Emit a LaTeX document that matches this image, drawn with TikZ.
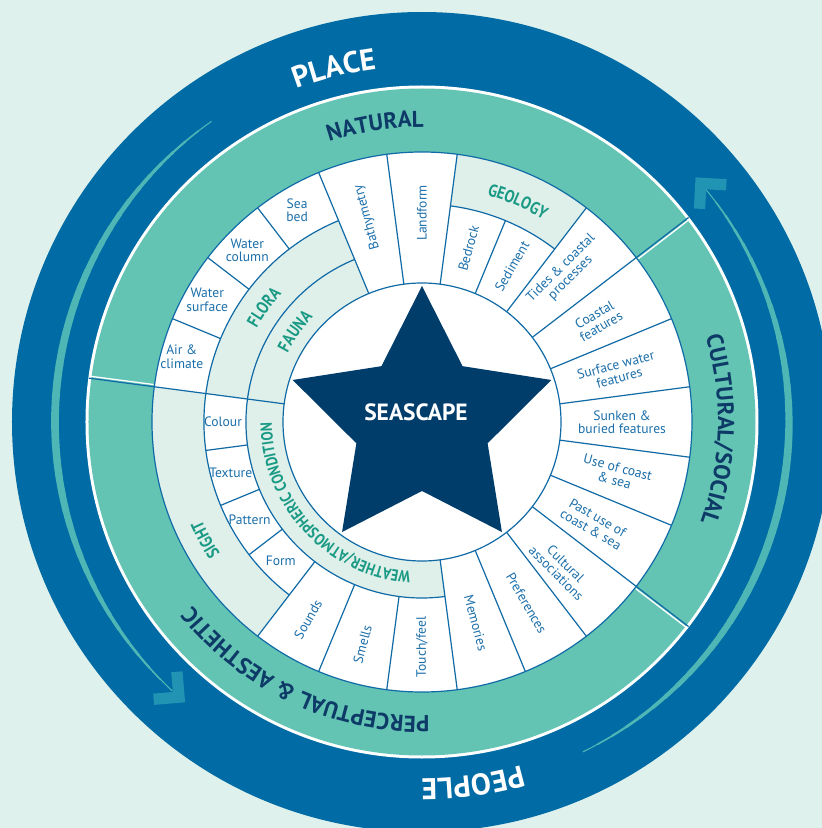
\documentclass[tikz,border=0pt]{standalone}
\usepackage{fontspec}
\setmainfont{PT Sans}
\newfontfamily\condfont[FakeStretch=0.84]{PT Sans}
\usetikzlibrary{decorations.text}

\definecolor{bgmint}{HTML}{DFF1EC}
\definecolor{ringblue}{HTML}{006BA4}
\definecolor{bandteal}{HTML}{63C4B4}
\definecolor{lineblue}{HTML}{0F6AA6}
\definecolor{celltext}{HTML}{1C6FAA}
\definecolor{cellmint}{HTML}{DFF0EB}
\definecolor{headgreen}{HTML}{1A9A84}
\definecolor{navy}{HTML}{0D3A66}
\definecolor{starblue}{HTML}{003D6B}
\definecolor{arrowteal}{HTML}{2193B3}
\definecolor{trailteal}{HTML}{4FB6B6}

\newcommand{\placetype}{\bfseries\fontsize{30}{30}\selectfont\color{white}}
\newcommand{\bandtype}{\bfseries\fontsize{23}{23}\selectfont\color{navy}}
\newcommand{\subtype}{\condfont\bfseries\fontsize{17.5}{17.5}\selectfont\color{headgreen}}
\newcommand{\weathertype}{\condfont\bfseries\fontsize{16.3}{16.3}\selectfont\color{headgreen}}

\tikzset{
  cell/.style={text=celltext,font=\fontsize{13.6}{13.5}\selectfont,align=center,inner sep=0pt},
  grid/.style={draw=lineblue,line width=1.2pt},
  arctext/.style={decorate,decoration={text along path,text align=center,text={#1}}},
  chevron/.style={fill=arrowteal}
}

\begin{document}
\begin{tikzpicture}[x=1pt,y=1pt]
  \useasboundingbox (-422,-406) rectangle (400,422);
  \clip (-422,-406) rectangle (400,422);
  \fill[bgmint] (-422,-406) rectangle (400,422);

  % outer ring
  \fill[ringblue] (0,0) circle[radius=410pt];
  \foreach \i in {0,...,39}{
    \pgfmathsetmacro{\a}{125+2.55*\i}
    \pgfmathsetmacro{\w}{0.8+7*sin(4.5*(\i+0.5))}
    \draw[trailteal,line width=\w pt] (\a:367) arc[start angle=\a,end angle=\a+2.7,radius=367pt];
  }
  \foreach \i in {0,...,39}{
    \pgfmathsetmacro{\a}{-64+2.58*\i}
    \pgfmathsetmacro{\w}{0.8+7*sin(4.5*(\i+0.5))}
    \draw[trailteal,line width=\w pt] (\a:367) arc[start angle=\a,end angle=\a+2.75,radius=367pt];
  }
  \fill[chevron,shift={(229.8:367)},rotate=319.8] (0,0) -- (-22,22) -- (-30,14) -- (-16,0) -- (-30,-14) -- (-22,-22) -- cycle;
  \fill[chevron,shift={(41.8:367)},rotate=131.8] (0,0) -- (-22,22) -- (-30,14) -- (-16,0) -- (-30,-14) -- (-22,-22) -- cycle;

  % band and wheel
  \fill[white] (0,0) circle[radius=336.5pt];
  \fill[bandteal] (0,0) circle[radius=333.5pt];
  \fill[white] (0,0) circle[radius=270pt];
  \foreach \s/\e/\ri/\ro in {112.5/172.5/139/218, 52.5/82.5/218/270, 172.5/277.5/139/176, 172.5/232.5/218/270}
    \fill[cellmint] (\s:\ri) arc[start angle=\s,end angle=\e,radius=\ri pt] -- (\e:\ro) arc[start angle=\e,end angle=\s,radius=\ro pt] -- cycle;

  \draw[grid] (0,0) circle[radius=139pt];
  \draw[grid] (0,0) circle[radius=270pt];
  \draw[grid] (112.5:176) arc[start angle=112.5,end angle=277.5,radius=176pt];
  \draw[grid] (112.5:218) arc[start angle=112.5,end angle=232.5,radius=218pt];
  \draw[grid] (52.5:218) arc[start angle=52.5,end angle=82.5,radius=218pt];
  \foreach \a/\ri/\ro in {7.5/139/270, 22.5/139/270, 37.5/139/270, 52.5/139/270, 82.5/139/270,
      97.5/139/270, 112.5/139/270, 172.5/139/270, -7.5/139/270, -22.5/139/270, -37.5/139/270,
      -52.5/139/270, -67.5/139/270, -82.5/139/270, 67.5/139/218, 127.5/218/270, 142.5/218/270,
      157.5/218/270, 187.5/176/218, 202.5/176/218, 217.5/176/218, 232.5/176/270, 247.5/176/270,
      262.5/176/270}
    \draw[grid] (\a:\ri) -- (\a:\ro);
  \foreach \a in {37.5,172.5,-37.5}{
    \draw[white,line width=1.3pt] ({\a-0.45}:271) -- ({\a-0.35}:336);
    \draw[lineblue,line width=1.2pt] (\a:270) -- (\a:336);
  }

  % star
  \fill[starblue] (90:136) \foreach \k in {0,...,4}{ -- ({126+72*\k}:69) -- ({162+72*\k}:136)} -- cycle;
  \node[text=white,font=\bfseries\fontsize{23.5}{23.5}\selectfont] (seascape) at (-6,10) {SEASCAPE};

  % ring titles
  \path[arctext={|\placetype|PLACE}] (134:356) arc[start angle=134,end angle=74,radius=356pt];
  \path[arctext={|\placetype|PEOPLE}] (-52:357) arc[start angle=-52,end angle=-112,radius=357pt];
  \path[arctext={|\bandtype|NATURAL}] (139:295) arc[start angle=139,end angle=59,radius=295pt];
  \path[arctext={|\bandtype|CULTURAL/SOCIAL}] (58.5:296) arc[start angle=58.5,end angle=-61.5,radius=296pt];
  \path[arctext={|\bandtype|PERCEPTUAL {\&} AESTHETIC}] (-45:294) arc[start angle=-45,end angle=-185,radius=294pt];
  \path[arctext={|\subtype|GEOLOGY}] (106.5:236) arc[start angle=106.5,end angle=26.5,radius=236pt];
  \path[arctext={|\subtype|FLORA}] (184:190) arc[start angle=184,end angle=104,radius=190pt];
  \path[arctext={|\subtype|FAUNA}] (184.5:151) arc[start angle=184.5,end angle=104.5,radius=151pt];
  \path[arctext={|\subtype|SIGHT}] (248.5:241) arc[start angle=248.5,end angle=168.5,radius=241pt];
  \path[arctext={|\weathertype|WEATHER/ATMOSPHERIC CONDITION}] (313:150) arc[start angle=313,end angle=133,radius=150pt];

  % cells
  \node[cell] (seabed) at (120.5:246) {Sea\\bed};
  \node[cell] (watercol) at (135.5:245) {Water\\column};
  \node[cell] (watersurf) at (150.4:247) {Water\\surface};
  \node[cell] (air) at (164.8:249) {Air \&\\climate};
  \node[cell,rotate=105] (bathy) at (105:212) {Bathymetry};
  \node[cell,rotate=90] (landform) at (90:209) {Landform};
  \node[cell,rotate=75] (bedrock) at (75:180) {Bedrock};
  \node[cell,rotate=60] (sediment) at (60:180) {Sediment};
  \node[cell,rotate=45] (tides) at (46:207) {Tides \& coastal\\processes};
  \node[cell,rotate=30] (coastal) at (30:203) {Coastal\\features};
  \node[cell,rotate=15] (surface) at (14.5:202) {Surface water\\features};
  \node[cell] (sunken) at (0:200) {Sunken \&\\buried features};
  \node[cell,rotate=-15] (usecoast) at (-15:201) {Use of coast\\\& sea};
  \node[cell,rotate=-30] (pastuse) at (-30.5:200) {Past use of\\coast \& sea};
  \node[cell,rotate=-45] (cultural) at (-46.5:202) {Cultural\\associations};
  \node[cell,rotate=-60] (prefs) at (-60:209) {Preferences};
  \node[cell,rotate=-75] (memories) at (-75:208) {Memories};
  \node[cell,rotate=90] (touch) at (-90:225) {Touch/feel};
  \node[cell,rotate=75] (smells) at (-105:230) {Smells};
  \node[cell,rotate=60] (sounds) at (-120:228) {Sounds};
  \node[cell] (form) at (224.5:198) {Form};
  \node[cell] (pattern) at (209.5:198) {Pattern};
  \node[cell] (texture) at (195:198) {Texture};
  \node[cell] (colour) at (180:199) {Colour};
\end{tikzpicture}
\end{document}
